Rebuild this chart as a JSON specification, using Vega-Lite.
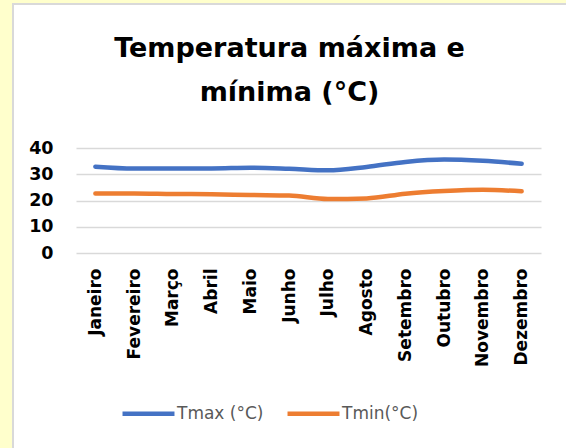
{
  "$schema": "https://vega.github.io/schema/vega-lite/v6.json",
  "background": "white",
  "padding": 0,
  "spacing": 0,
  "config": {"view": {"stroke": null}, "concat": {"spacing": 0}, "font": "DejaVu Sans"},
  "resolve": {"scale": {"color": "independent"}, "legend": {"color": "independent"}},
  "hconcat": [
    {"width": 12, "height": 448, "data": {"values": []}, "mark": "rect", "encoding": {}, "view": {"fill": "#FFFFCC", "stroke": null}},
    {"spacing": 0,
     "resolve": {"scale": {"color": "independent"}, "legend": {"color": "independent"}},
     "vconcat": [
      {"width": 554, "height": 3, "data": {"values": []}, "mark": "rect", "encoding": {}, "view": {"fill": "#FFFFCC", "stroke": null}},
      {"width": 554, "height": 2, "data": {"values": []}, "mark": "rect", "encoding": {}, "view": {"fill": "#D9D9D9", "stroke": null}},
      {"spacing": 0,
       "resolve": {"scale": {"color": "independent"}, "legend": {"color": "independent"}},
       "hconcat": [
        {"width": 2, "height": 443, "data": {"values": []}, "mark": "rect", "encoding": {}, "view": {"fill": "#D9D9D9", "stroke": null}},
        {"spacing": 0,
         "resolve": {"scale": {"color": "independent"}, "legend": {"color": "independent"}},
         "vconcat": [
          {"width": 1, "height": 30, "data": {"values": []}, "mark": "rect", "encoding": {}, "view": {"fill": null, "stroke": null}},
          {
            "width": 465,
            "height": 105,
            "data": {"values": [
              {"mes": "Janeiro", "serie": "Tmax (°C)", "temp": 32.9},
              {"mes": "Fevereiro", "serie": "Tmax (°C)", "temp": 32.2},
              {"mes": "Março", "serie": "Tmax (°C)", "temp": 32.2},
              {"mes": "Abril", "serie": "Tmax (°C)", "temp": 32.2},
              {"mes": "Maio", "serie": "Tmax (°C)", "temp": 32.5},
              {"mes": "Junho", "serie": "Tmax (°C)", "temp": 32.1},
              {"mes": "Julho", "serie": "Tmax (°C)", "temp": 31.5},
              {"mes": "Agosto", "serie": "Tmax (°C)", "temp": 32.8},
              {"mes": "Setembro", "serie": "Tmax (°C)", "temp": 34.7},
              {"mes": "Outubro", "serie": "Tmax (°C)", "temp": 35.6},
              {"mes": "Novembro", "serie": "Tmax (°C)", "temp": 35.1},
              {"mes": "Dezembro", "serie": "Tmax (°C)", "temp": 34.0},
              {"mes": "Janeiro", "serie": "Tmin(°C)", "temp": 22.7},
              {"mes": "Fevereiro", "serie": "Tmin(°C)", "temp": 22.7},
              {"mes": "Março", "serie": "Tmin(°C)", "temp": 22.5},
              {"mes": "Abril", "serie": "Tmin(°C)", "temp": 22.4},
              {"mes": "Maio", "serie": "Tmin(°C)", "temp": 22.1},
              {"mes": "Junho", "serie": "Tmin(°C)", "temp": 21.9},
              {"mes": "Julho", "serie": "Tmin(°C)", "temp": 20.6},
              {"mes": "Agosto", "serie": "Tmin(°C)", "temp": 20.8},
              {"mes": "Setembro", "serie": "Tmin(°C)", "temp": 22.6},
              {"mes": "Outubro", "serie": "Tmin(°C)", "temp": 23.6},
              {"mes": "Novembro", "serie": "Tmin(°C)", "temp": 24.1},
              {"mes": "Dezembro", "serie": "Tmin(°C)", "temp": 23.5}
            ]},
            "title": {"text": ["Temperatura máxima e", "mínima (°C)"], "fontSize": 27, "font": "DejaVu Sans", "fontWeight": "bold", "color": "black", "lineHeight": 44, "anchor": "middle", "dx": -19, "offset": 32},
            "mark": {"type": "line", "interpolate": "monotone", "strokeWidth": 4.5, "strokeCap": "round"},
            "encoding": {
              "x": {"field": "mes", "type": "ordinal", "sort": ["Janeiro", "Fevereiro", "Março", "Abril", "Maio", "Junho", "Julho", "Agosto", "Setembro", "Outubro", "Novembro", "Dezembro"], "scale": {"type": "point", "padding": 0.5}, "axis": {"title": null, "labelAngle": -90, "labelFontSize": 17, "labelFontWeight": "bold", "labelColor": "black", "labelFont": "DejaVu Sans", "labelPadding": 15, "ticks": false, "domain": false, "grid": false}},
              "y": {"field": "temp", "type": "quantitative", "scale": {"domain": [0, 40]}, "axis": {"title": null, "values": [0, 10, 20, 30, 40], "labelFontSize": 17.5, "labelFontWeight": "bold", "labelColor": "black", "labelFont": "DejaVu Sans", "labelPadding": 23, "ticks": false, "domain": false, "gridColor": "#D9D9D9", "gridWidth": 1.5, "minExtent": 62}},
              "color": {"field": "serie", "type": "nominal", "scale": {"domain": ["Tmax (°C)", "Tmin(°C)"], "range": ["#4472C4", "#ED7D31"]}, "legend": {"title": null, "orient": "none", "legendX": 44, "legendY": 237, "direction": "horizontal", "symbolType": "stroke", "symbolSize": 2700, "symbolStrokeWidth": 4.5, "labelFontSize": 17, "labelColor": "#595959", "labelFont": "DejaVu Sans", "labelOffset": 0, "columnPadding": 14}}
            }
          }
        ]}
      ]}
    ]}
  ]
}
